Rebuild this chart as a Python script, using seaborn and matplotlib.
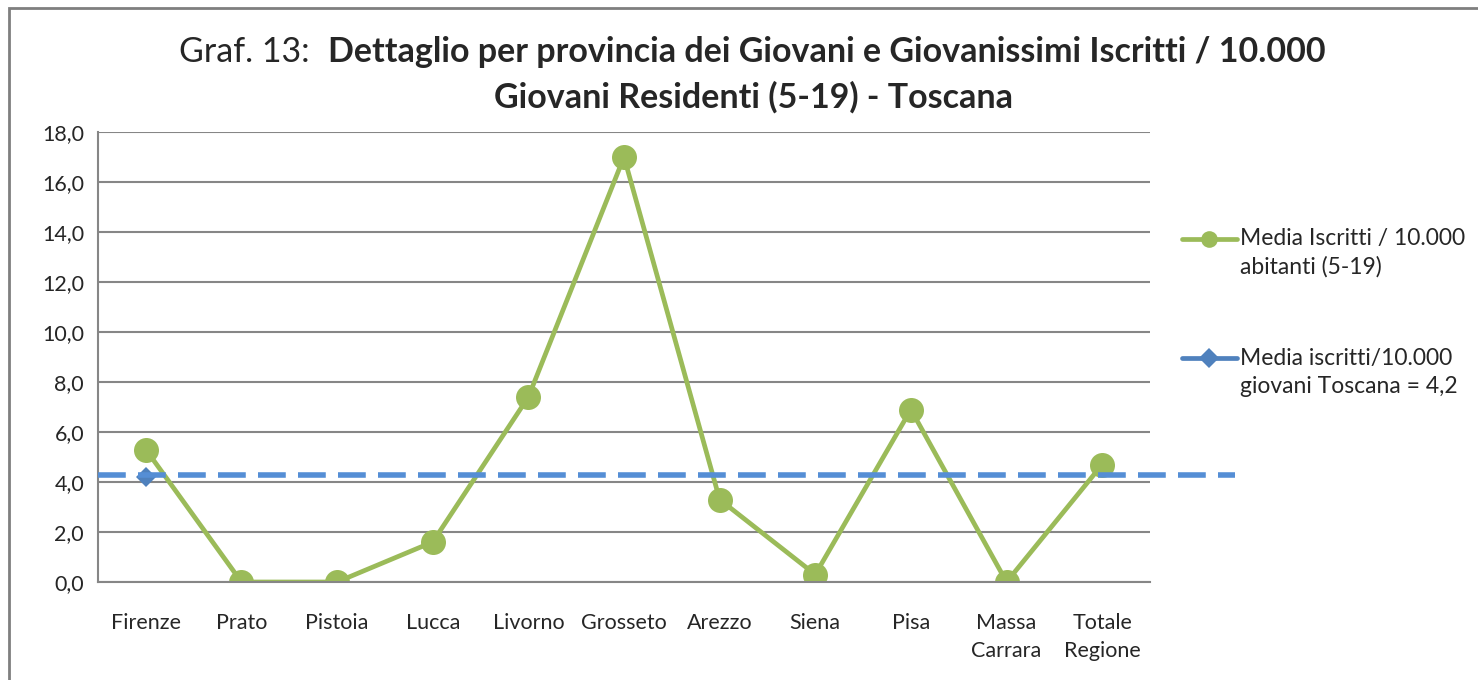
import numpy as np
import pandas as pd
import seaborn as sns
import matplotlib.pyplot as plt
from matplotlib.patches import Rectangle
from matplotlib.ticker import FuncFormatter
from matplotlib.legend_handler import HandlerLine2D

province = ["Firenze", "Prato", "Pistoia", "Lucca", "Livorno", "Grosseto",
            "Arezzo", "Siena", "Pisa", "Massa\nCarrara", "Totale\nRegione"]
media_iscritti = [5.3, 0.0, 0.0, 1.6, 7.4, 17.0, 3.3, 0.3, 6.9, 0.0, 4.7]
media_toscana = [4.2] + [np.nan] * 10
linea_toscana = 4.3

df = pd.DataFrame({"provincia": province,
                   "iscritti": media_iscritti,
                   "toscana": media_toscana})


# simbolo della legenda allineato alla prima riga del testo
class HandlerPrimaRiga(HandlerLine2D):
    def create_artists(self, legend, orig_handle, xdescent, ydescent,
                       width, height, fontsize, trans):
        artists = super().create_artists(legend, orig_handle, xdescent, ydescent,
                                         width, height, fontsize, trans)
        for a in artists:
            a.set_ydata(np.asarray(a.get_ydata(), dtype=float) + 10.5)
        return artists


sns.set_style("white")
plt.rcParams["font.family"] = ["Lato", "DejaVu Sans"]

fig = plt.figure(figsize=(14.78, 6.8), dpi=100)
ax = fig.add_axes([98 / 1478, 1 - 582 / 680, (1150 - 98) / 1478, (582 - 132) / 680])

x = np.arange(len(province))
sns.lineplot(x=x, y=df["iscritti"], ax=ax, color="#9BBB59", lw=3.4,
             marker="o", markersize=18, markeredgewidth=0,
             label="Media Iscritti / 10.000\nabitanti (5-19)")
sns.lineplot(x=x, y=df["toscana"], ax=ax, color="#4F81BD", lw=3.4,
             marker="D", markersize=10, markeredgewidth=0,
             label="Media iscritti/10.000\ngiovani Toscana = 4,2")
ax.axhline(linea_toscana, xmin=0, xmax=1.081, color="#558ED5", lw=4,
           ls=(0, (5, 2.2)), clip_on=False, zorder=5)

ax.set_xlim(-0.5, len(province) - 0.5)
ax.set_ylim(0, 18)
ax.set_yticks(np.arange(0, 19, 2))
ax.yaxis.set_major_formatter(FuncFormatter(lambda v, p: f"{v:.1f}".replace(".", ",")))
ax.set_xticks(x)
ax.set_xticklabels(province, fontsize=15.5, linespacing=1.55)
ax.set_xticks(np.arange(-0.5, len(province)), minor=True)
ax.tick_params(axis="x", which="major", length=0, pad=22)
ax.tick_params(axis="x", which="minor", length=6, color="#868686", width=1.5, direction="out")
ax.tick_params(axis="y", length=6, color="#868686", width=1.5, direction="out", labelsize=15.5, pad=4)
ax.set_xlabel("")
ax.set_ylabel("")

ax.grid(axis="y", color="#868686", lw=1.5)
ax.set_axisbelow(True)
for s in ["top", "right"]:
    ax.spines[s].set_visible(False)
for s in ["left", "bottom"]:
    ax.spines[s].set_color("#868686")
    ax.spines[s].set_linewidth(1.5)

handles, labels = ax.get_legend_handles_labels()
leg = ax.legend(handles, labels, loc="upper left", bbox_to_anchor=(1.030, 0.786),
                frameon=False, fontsize=16.5, handlelength=2.4, handletextpad=0.15,
                labelspacing=3.05, borderaxespad=0, borderpad=0,
                handler_map={h: HandlerPrimaRiga() for h in handles})
for txt in leg.get_texts():
    txt.set_linespacing(1.4)
leg.legend_handles[0].set_markersize(12)
leg.legend_handles[1].set_markersize(10)

# titolo su due righe, prima parte normale e resto in grassetto
t1 = fig.text(0.5, 1 - 52 / 680, "Graf. 13:  ", fontsize=24.5, va="center", ha="left")
t2 = fig.text(0.5, 1 - 52 / 680, "Dettaglio per provincia dei Giovani e Giovanissimi Iscritti / 10.000",
              fontsize=24.5, fontweight="bold", va="center", ha="left")
fig.canvas.draw()
r = fig.canvas.get_renderer()
w1 = t1.get_window_extent(r).width / 1478
w2 = t2.get_window_extent(r).width / 1478
x0 = 0.509 - (w1 + w2) / 2
t1.set_x(x0)
t2.set_x(x0 + w1)
fig.text(0.51, 1 - 97 / 680, "Giovani Residenti (5-19) - Toscana",
         fontsize=24.5, fontweight="bold", va="center", ha="center")

fig.patches.append(Rectangle((9 / 1478, -0.1), 1.2, 1 - 8 / 680 + 0.1,
                             transform=fig.transFigure, fill=False,
                             edgecolor="#7f7f7f", lw=2))

fig.savefig("out.png", dpi=100)
